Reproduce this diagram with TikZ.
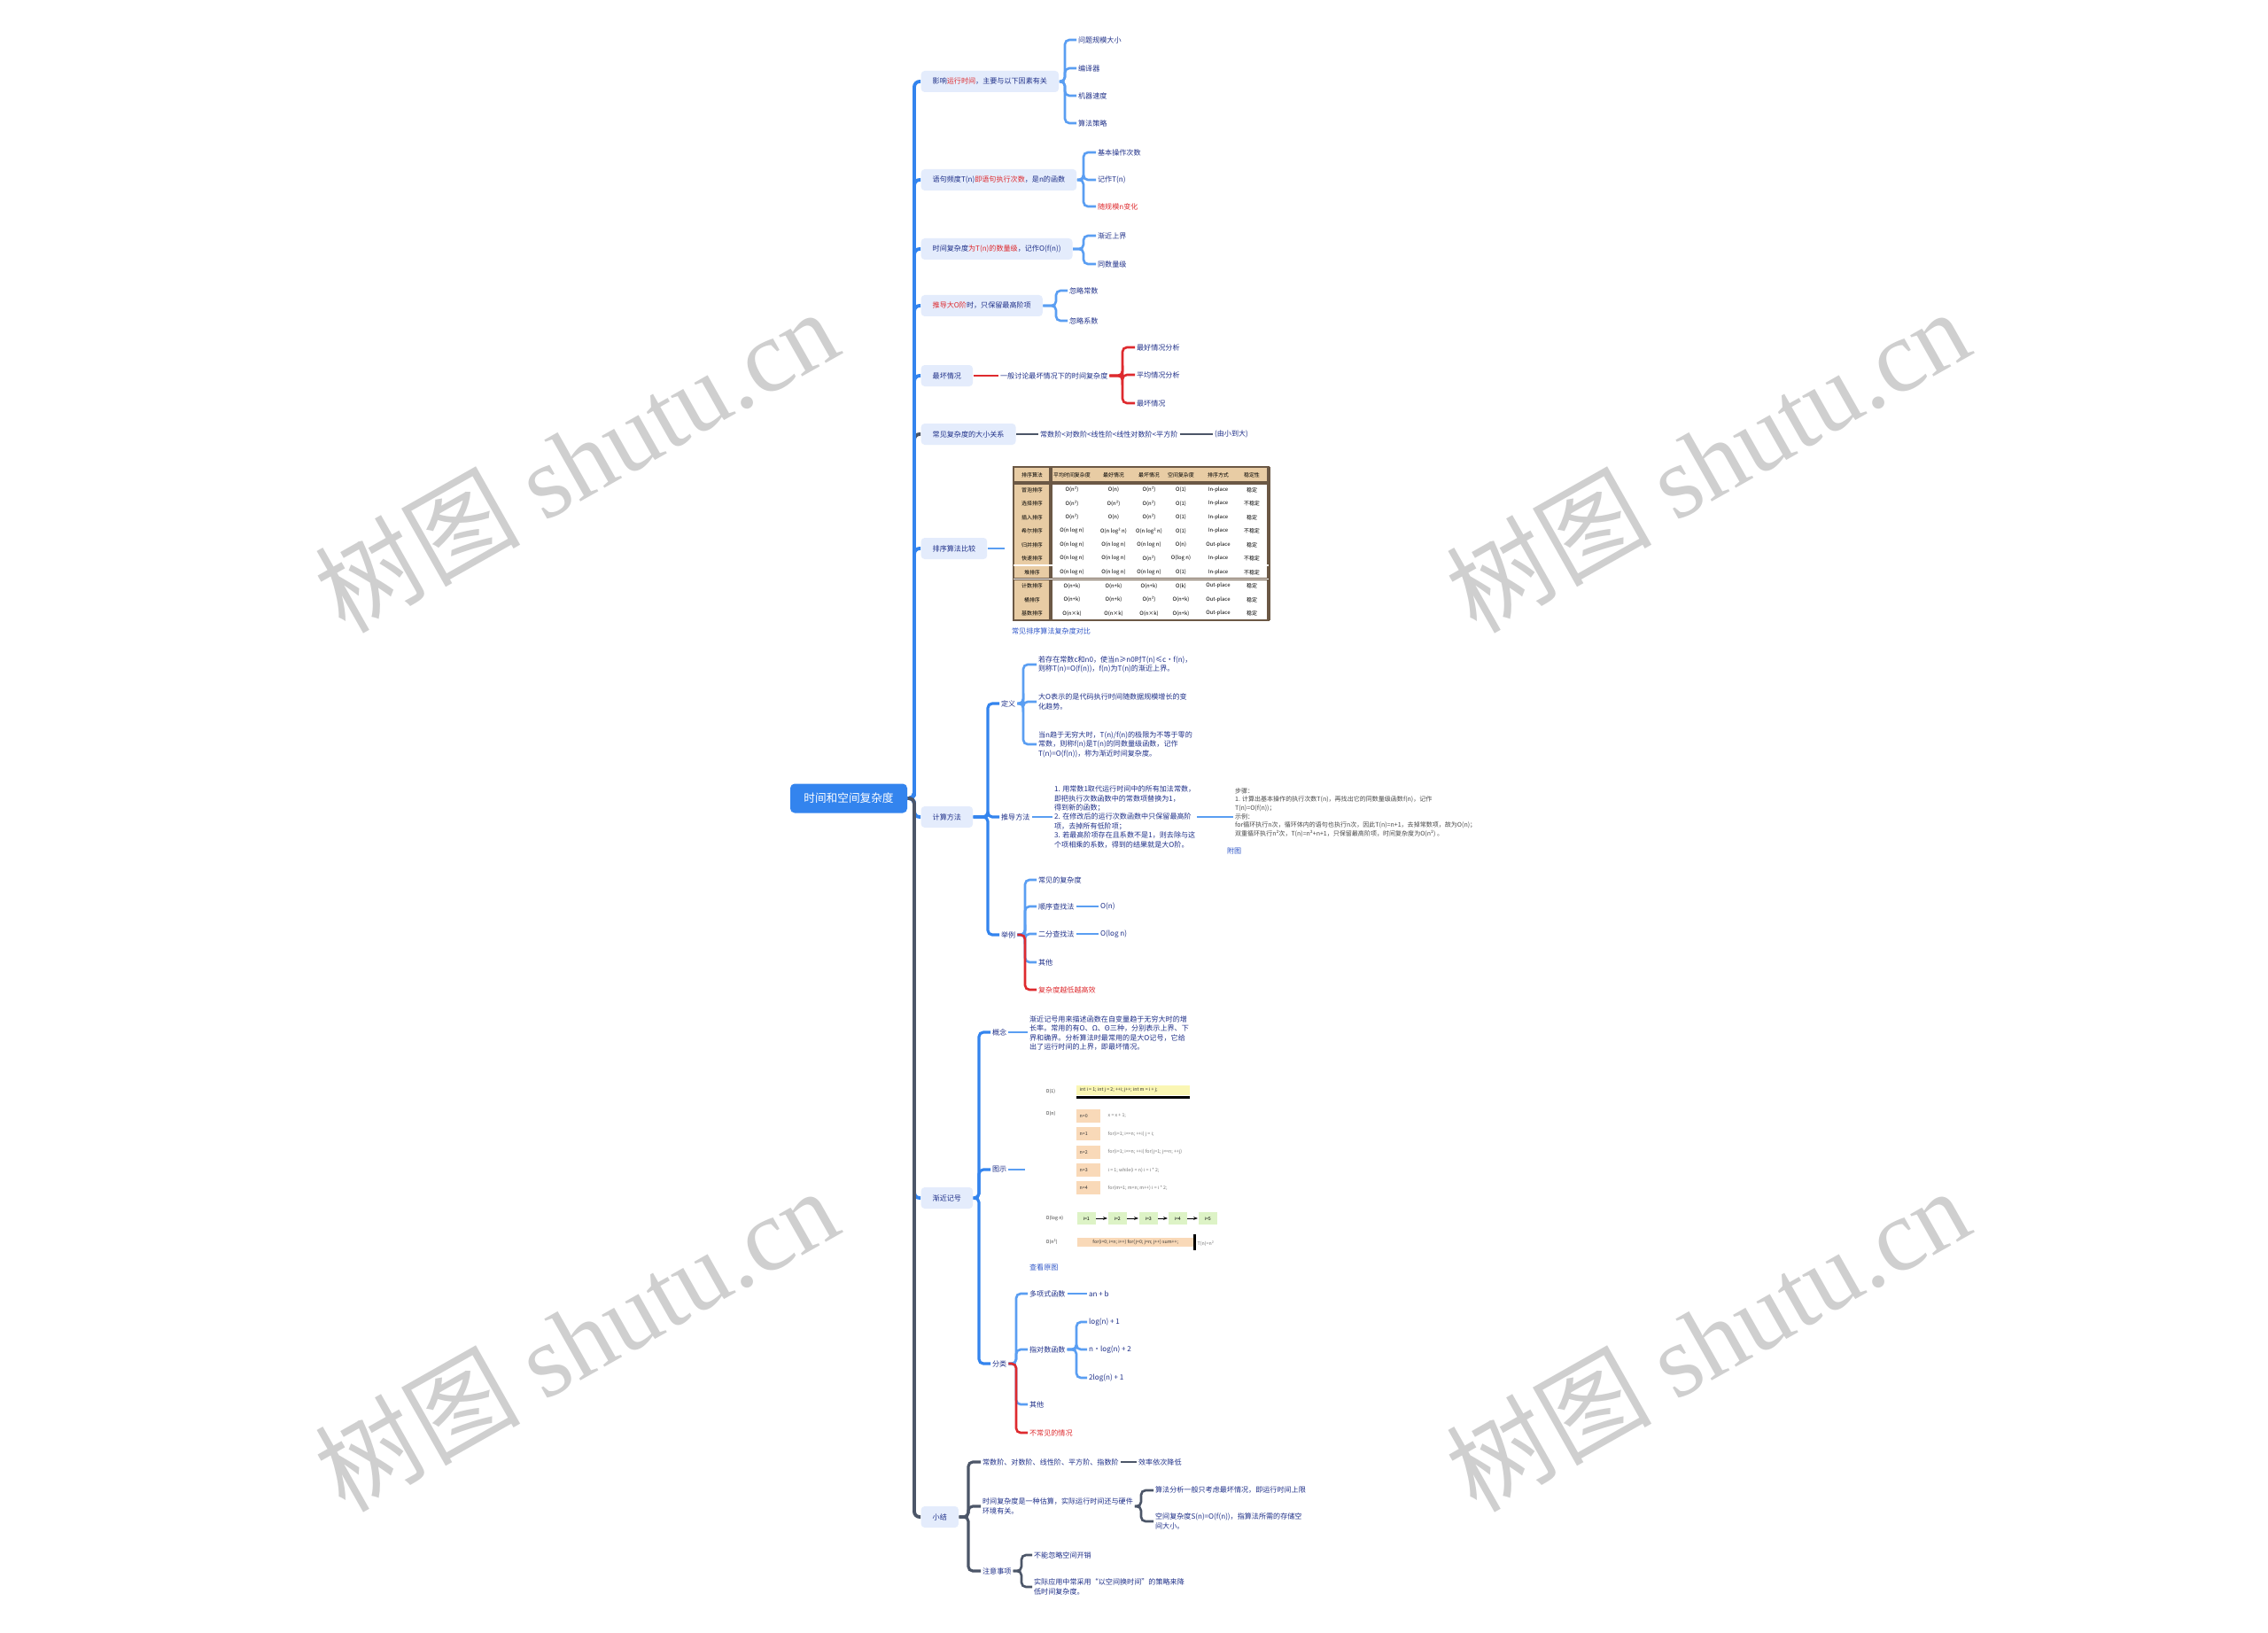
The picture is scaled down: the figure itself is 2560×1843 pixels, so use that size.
\documentclass[tikz,border=0pt]{standalone}
\usepackage{fontspec}
\setmainfont{Noto Sans CJK SC}
\newfontfamily\wmlatin{Liberation Serif}
\usetikzlibrary{arrows.meta,calc}
\definecolor{Spine}{HTML}{3384EE}
\definecolor{Twig}{HTML}{5A9EF2}
\definecolor{Navy}{HTML}{1E2F88}
\definecolor{Pale}{HTML}{E4ECFC}
\definecolor{Alert}{HTML}{DE2A2E}
\definecolor{Slate}{HTML}{4C5668}
\definecolor{Tan}{HTML}{E8CCA4}
\definecolor{Bark}{HTML}{6B5845}
\definecolor{Water}{HTML}{CFCFCF}
\definecolor{Lemon}{HTML}{FAF6B4}
\definecolor{Peach}{HTML}{F9D9B8}
\definecolor{Mint}{HTML}{DDF3C6}
\definecolor{Link}{HTML}{2E55C8}
\newcommand\leaffont{\fontsize{2.3}{2.95}\selectfont}
\newcommand\notefont{\fontsize{2.0}{2.75}\selectfont}
\newcommand\rootfont{\fontsize{3.6}{4.2}\selectfont}
\newcommand\tabfont{\fontsize{1.7}{2}\selectfont}
\newcommand\imgfont{\fontsize{1.5}{1.8}\selectfont}
\tikzset{rootbox/.style={fill=Spine,text=white,rounded corners=0.5mm,font=\rootfont,minimum width=13.2mm,minimum height=3.3mm,inner sep=0pt},
topic/.style={fill=Pale,text=Navy,rounded corners=0.4mm,font=\leaffont,minimum height=2.4mm,inner xsep=1.3mm,inner ysep=0pt,anchor=west},
leaf/.style={text=Navy,font=\leaffont,anchor=west,inner sep=0.4pt,align=left},
hot/.style={leaf,text=Alert},
note/.style={text=black!72,font=\notefont,anchor=west,inner sep=0.4pt,align=left},
trunk/.style={draw=Spine,line width=1.1pt,rounded corners=0.6mm},
twig/.style={draw=Twig,line width=0.75pt,rounded corners=0.5mm},
redtwig/.style={twig,draw=Alert},
greytwig/.style={twig,draw=Slate},
wmark/.style={text=Water,rotate=29.5,font=\fontsize{33}{33}\selectfont,inner sep=0pt},
cell/.style={font=\tabfont,text=black,inner sep=0pt},
imglab/.style={font=\imgfont,text=black!80,inner sep=0pt,anchor=west}}

\begin{document}
\begin{tikzpicture}[x=0.1mm,y=-0.1mm]
\useasboundingbox (0,0) rectangle (2560,1843);
\fill[white] (0,0) rectangle (2560,1843);
% watermarks
\foreach \wx/\wy [count=\k] in {650/519,1927/519,650/1511,1927/1511}
  \node[wmark] (wm\k) at (\wx,\wy) {树图 {\wmlatin shutu.cn}};

% root and main topics
\node[rootbox] (root) at (958,901) {时间和空间复杂度};
\node[topic] (b1) at (1039,92) {影响\textcolor{Alert}{运行时间}，主要与以下因素有关};
\node[topic] (b2) at (1039,203) {语句频度T(n)\textcolor{Alert}{即语句执行次数}，是n的函数};
\node[topic] (b3) at (1039,281) {时间复杂度\textcolor{Alert}{为T(n)的数量级}，记作O(f(n))};
\node[topic] (b4) at (1039,345) {\textcolor{Alert}{推导大O阶}时，只保留最高阶项};
\node[topic] (b5) at (1039,424) {最坏情况};
\node[topic] (b6) at (1039,490) {常见复杂度的大小关系};
\node[topic] (b7) at (1039,619) {排序算法比较};
\node[topic] (b8) at (1039,922) {计算方法};
\node[topic] (b9) at (1039,1352) {渐近记号};
\node[topic] (b10) at (1039,1712) {小结};
\draw[trunk,draw=Slate] (root.east) -| ($(b6.west)+(-7,0)$) -- (b6.west);
\foreach \b in {b7,b8,b9,b1,b2,b3,b4,b5}
  \draw[trunk] (root.east) -| ($(\b.west)+(-7,0)$) -- (\b.west);
\draw[trunk,draw=Slate] (root.east) -| ($(b10.west)+(-7,0)$) -- (b10.west);

% 1
\node[leaf] (c11) at (1215,45) {问题规模大小};
\node[leaf] (c12) at (1215,77) {编译器};
\node[leaf] (c13) at (1215,108) {机器速度};
\node[leaf] (c14) at (1215,139) {算法策略};
\foreach \c in {c11,c12,c13,c14}
  \draw[twig] (b1.east) -| ($(\c.west)+(-13,0)$) -- (\c.west);
% 2
\node[leaf] (c21) at (1237,172) {基本操作次数};
\node[leaf] (c22) at (1237,203) {记作T(n)};
\node[hot] (c23) at (1237,233) {随规模n变化};
\foreach \c in {c21,c22,c23}
  \draw[twig] (b2.east) -| ($(\c.west)+(-14,0)$) -- (\c.west);
% 3
\node[leaf] (c31) at (1237,266) {渐近上界};
\node[leaf] (c32) at (1237,298) {同数量级};
\foreach \c in {c31,c32}
  \draw[twig] (b3.east) -| ($(\c.west)+(-14,0)$) -- (\c.west);
% 4
\node[leaf] (c41) at (1205,328) {忽略常数};
\node[leaf] (c42) at (1205,362) {忽略系数};
\foreach \c in {c41,c42}
  \draw[twig] (b4.east) -| ($(\c.west)+(-13,0)$) -- (\c.west);
% 5
\node[leaf] (d5) at (1127,424) {一般讨论最坏情况下的时间复杂度};
\node[leaf] (c51) at (1281,392) {最好情况分析};
\node[leaf] (c52) at (1281,423) {平均情况分析};
\node[leaf] (c53) at (1281,455) {最坏情况};
\draw[redtwig] (b5.east) -- (d5.west);
\foreach \c in {c51,c52,c53}
  \draw[redtwig] (d5.east) -| ($(\c.west)+(-14,0)$) -- (\c.west);
% 6
\node[leaf] (d6) at (1172,490) {常数阶<对数阶<线性阶<线性对数阶<平方阶};
\node[leaf] (e6) at (1369,490) {(由小到大)};
\draw[greytwig] (b6.east) -- (d6.west);
\draw[greytwig] (d6.east) -- (e6.west);

% 7: table
\coordinate (tab) at (1134,619);
\draw[twig] (b7.east) -- (tab);
\fill[white] (1144,527) rectangle (1432,700);
\fill[Tan] (1144,527) rectangle (1432,545);
\fill[Tan] (1144,545) rectangle (1186,700);
\draw[Bark,line width=0.4pt] (1144,527) rectangle (1432,700);
\draw[Bark,line width=0.9pt] (1186,527) -- (1186,700);
\draw[Bark,line width=0.9pt] (1144,545) -- (1432,545);
\draw[Bark,line width=0.9pt] (1432,527) -- (1432,700);
\foreach \sy in {638,653.5}{\draw[Bark,double,double distance=0.3pt,line width=0.25pt] (1144,\sy) -- (1432,\sy);}
\foreach \cx/\hd [count=\j] in {1165/排序算法,1210/平均时间复杂度,1257/最好情况,1297/最坏情况,1333/空间复杂度,1375/排序方式,1413/稳定性}
  \node[cell] (hd\j) at (\cx,536) {\hd};
\foreach \i/\nm/\va/\vb/\vc/\vd/\ve/\vf in {
  1/冒泡排序/O(n²)/O(n)/O(n²)/O(1)/In-place/稳定,
  2/选择排序/O(n²)/O(n²)/O(n²)/O(1)/In-place/不稳定,
  3/插入排序/O(n²)/O(n)/O(n²)/O(1)/In-place/稳定,
  4/希尔排序/O(n log n)/O(n log² n)/O(n log² n)/O(1)/In-place/不稳定,
  5/归并排序/O(n log n)/O(n log n)/O(n log n)/O(n)/Out-place/稳定,
  6/快速排序/O(n log n)/O(n log n)/O(n²)/O(log n)/In-place/不稳定,
  7/堆排序/O(n log n)/O(n log n)/O(n log n)/O(1)/In-place/不稳定,
  8/计数排序/O(n+k)/O(n+k)/O(n+k)/O(k)/Out-place/稳定,
  9/桶排序/O(n+k)/O(n+k)/O(n²)/O(n+k)/Out-place/稳定,
  10/基数排序/O(n×k)/O(n×k)/O(n×k)/O(n+k)/Out-place/稳定}{
  \pgfmathsetmacro\ry{537.25+15.5*\i}
  \node[cell] (nm\i) at (1165,\ry) {\nm};
  \foreach \cx/\vv [count=\j] in {1210/\va,1257/\vb,1297/\vc,1333/\vd,1375/\ve,1413/\vf}
    \node[cell] (cell\i-\j) at (\cx,\ry) {\vv};
}
\node[leaf,text=Link] (tabcap) at (1140,712) {常见排序算法复杂度对比};

% 8
\node[leaf] (g1) at (1128,794) {定义};
\node[leaf] (g2) at (1128,922) {推导方法};
\node[leaf] (g3) at (1128,1055) {举例};
\foreach \g in {g1,g2,g3}
  \draw[twig,draw=Spine,line width=0.9pt] (b8.east) -| ($(\g.west)+(-13,0)$) -- (\g.west);
\node[leaf] (t1) at (1170,750) {若存在常数c和n0，使当n≥n0时T(n)≤c·f(n)，\\则称T(n)=O(f(n))，f(n)为T(n)的渐近上界。};
\node[leaf] (t2) at (1170,792) {大O表示的是代码执行时间随数据规模增长的变\\化趋势。};
\node[leaf] (t3) at (1170,840) {当n趋于无穷大时，T(n)/f(n)的极限为不等于零的\\常数，则称f(n)是T(n)的同数量级函数，记作\\T(n)=O(f(n))，称为渐近时间复杂度。};
\foreach \t in {t1,t2,t3}
  \draw[twig] (g1.east) -| ($(\t.west)+(-15,0)$) -- (\t.west);
\node[leaf] (h2) at (1188,922) {1. 用常数1取代运行时间中的所有加法常数，\\即把执行次数函数中的常数项替换为1，\\得到新的函数；\\2. 在修改后的运行次数函数中只保留最高阶\\项，去掉所有低阶项；\\3. 若最高阶项存在且系数不是1，则去除与这\\个项相乘的系数，得到的结果就是大O阶。};
\draw[twig] (g2.east) -- (h2.west);
\node[note] (n2) at (1392,917) {步骤：\\1. 计算出基本操作的执行次数T(n)，再找出它的同数量级函数f(n)，记作\\T(n)=O(f(n))；\\示例：\\for循环执行n次，循环体内的语句也执行n次，因此T(n)=n+1，去掉常数项，故为O(n)；\\双重循环执行n²次，T(n)=n²+n+1，只保留最高阶项，时间复杂度为O(n²) 。};
\draw[twig] (h2.east) -- (h2.east -| n2.west);
\node[leaf,text=Link] (n2link) at (1383,960) {附图};
\node[leaf] (k1) at (1170,993) {常见的复杂度};
\node[leaf] (k2) at (1170,1023) {顺序查找法};
\node[leaf] (k3) at (1170,1054) {二分查找法};
\node[leaf] (k4) at (1170,1086) {其他};
\node[hot] (k5) at (1170,1117) {复杂度越低越高效};
\foreach \k in {k1,k2,k3,k4}
  \draw[twig] (g3.east) -| ($(\k.west)+(-13,0)$) -- (\k.west);
\draw[redtwig] (g3.east) -| ($(k5.west)+(-13,0)$) -- (k5.west);
\node[leaf] (m2) at (1240,1023) {O(n)};
\node[leaf] (m3) at (1240,1054) {O(log n)};
\draw[twig] (k2.east) -- (m2.west);
\draw[twig] (k3.east) -- (m3.west);

% 9
\node[leaf] (p1) at (1118,1165) {概念};
\node[leaf] (p2) at (1118,1320) {图示};
\node[leaf] (p3) at (1118,1539) {分类};
\foreach \p in {p1,p2,p3}
  \draw[twig,draw=Spine,line width=0.9pt] (b9.east) -| ($(\p.west)+(-13,0)$) -- (\p.west);
\node[leaf] (q1) at (1160,1166) {渐近记号用来描述函数在自变量趋于无穷大时的增\\长率。常用的有O、Ω、Θ三种，分别表示上界、下\\界和确界。分析算法时最常用的是大O记号，它给\\出了运行时间的上界，即最坏情况。};
\draw[twig] (p1.east) -- (q1.west |- p1.east);
% picture of 图示
\coordinate (img) at (1157,1320);
\draw[twig] (p2.east) -- (img);
\node[imglab] (il1) at (1180,1232) {O(1)};
\fill[Lemon] (1215,1225) rectangle (1343,1236);
\draw[line width=0.9pt] (1215,1238.5) -- (1343,1238.5);
\node[imglab] (iy) at (1218,1230.5) {int i = 1; int j = 2; ++i; j++; int m = i + j;};
\node[imglab] (il2) at (1180,1257) {O(n)};
\foreach \k/\code in {0/x = x + 1;,1/for(i=1; i<=n; ++i) j = i;,2/for(i=1; i<=n; ++i) for(j=1; j<=n; ++j),3/i = 1; while(i < n) i = i * 2;,4/for(m=1; m<n; m++) i = i * 2;}{
  \fill[Peach] (1215,{1252+20.3*\k}) rectangle (1242,{1267+20.3*\k});
  \node[imglab] (ib\k) at (1218,{1259.5+20.3*\k}) {n=\k};
  \node[imglab,text=black!55] (ic\k) at (1250,{1259.5+20.3*\k}) {\code};
}
\node[imglab] (il3) at (1180,1375) {O(log n)};
\foreach \gx [count=\k] in {1215,1250,1285,1318,1352}
  \node[fill=Mint,minimum width=2.1mm,minimum height=1.4mm,inner sep=0pt,anchor=west,font=\imgfont] (gr\k) at (\gx,1375) {i=\k};
\foreach \k [evaluate=\k as \kn using int(\k+1)] in {1,2,3,4}
  \draw[-{Stealth[length=0.5mm]},line width=0.25pt] (gr\k.east) -- (gr\kn.west);
\node[imglab] (il4) at (1180,1402) {O(n²)};
\node[fill=Peach,anchor=west,minimum width=13.2mm,minimum height=1mm,inner sep=0pt,font=\imgfont,text=black!80] (ob) at (1215,1402) {for(i=0; i<n; i++) for(j=0; j<n; j++) sum++;};
\draw[line width=1pt] ($(ob.north east)+(0,-3)$) -- ($(ob.south east)+(0,3)$);
\node[imglab,text=black!55] (obt) at (1351,1404) {T(n)=n²};
\node[leaf,text=Link] (p2link) at (1160,1430) {查看原图};
% 分类
\node[leaf] (r1) at (1160,1460) {多项式函数};
\node[leaf] (r2) at (1160,1523) {指对数函数};
\node[leaf] (r3) at (1160,1585) {其他};
\node[hot] (r4) at (1160,1617) {不常见的情况};
\foreach \r in {r1,r2,r3}
  \draw[twig] (p3.east) -| ($(\r.west)+(-13,0)$) -- (\r.west);
\draw[redtwig] (p3.east) -| ($(r4.west)+(-13,0)$) -- (r4.west);
\node[leaf] (s1) at (1227,1460) {an + b};
\draw[twig] (r1.east) -- (s1.west);
\node[leaf] (s21) at (1227,1492) {log(n) + 1};
\node[leaf] (s22) at (1227,1523) {n·log(n) + 2};
\node[leaf] (s23) at (1227,1555) {2log(n) + 1};
\foreach \s in {s21,s22,s23}
  \draw[twig] (r2.east) -| ($(\s.west)+(-12,0)$) -- (\s.west);

% 10
\node[leaf] (u1) at (1107,1650) {常数阶、对数阶、线性阶、平方阶、指数阶};
\node[leaf] (u2) at (1107,1700) {时间复杂度是一种估算，实际运行时间还与硬件\\环境有关。};
\node[leaf] (u3) at (1107,1773) {注意事项};
\foreach \u in {u1,u2,u3}
  \draw[greytwig,line width=0.9pt] (b10.east) -| ($(\u.west)+(-14,0)$) -- (\u.west);
\node[leaf] (v1) at (1283,1650) {效率依次降低};
\draw[greytwig] (u1.east) -- (v1.west);
\node[leaf] (w1) at (1302,1682) {算法分析一般只考虑最坏情况，即运行时间上限};
\node[leaf] (w2) at (1302,1717) {空间复杂度S(n)=O(f(n))，指算法所需的存储空\\间大小。};
\foreach \w in {w1,w2}
  \draw[greytwig] (u2.east) -| ($(\w.west)+(-14,0)$) -- (\w.west);
\node[leaf] (x1) at (1165,1755) {不能忽略空间开销};
\node[leaf] (x2) at (1165,1791) {实际应用中常采用“以空间换时间”的策略来降\\低时间复杂度。};
\foreach \x in {x1,x2}
  \draw[greytwig] (u3.east) -| ($(\x.west)+(-12,0)$) -- (\x.west);
\end{tikzpicture}
\end{document}
